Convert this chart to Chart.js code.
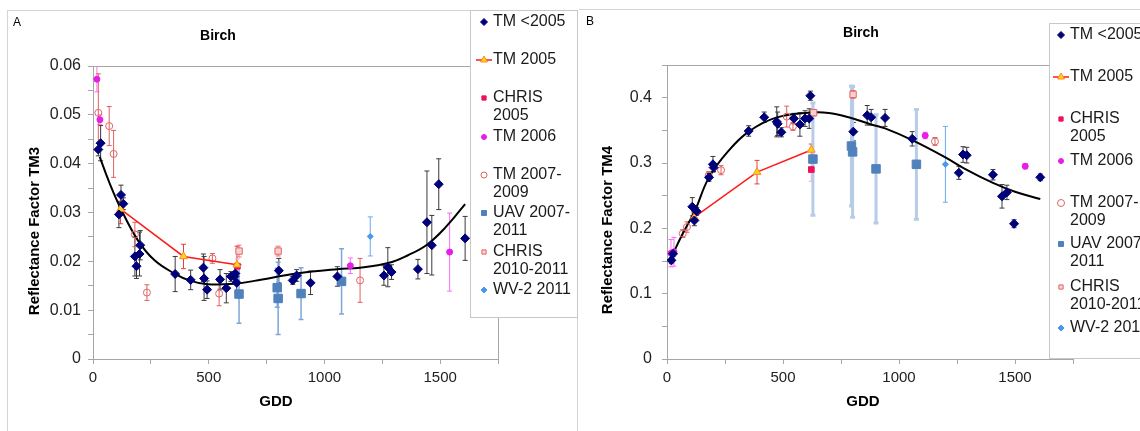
<!DOCTYPE html>
<html>
<head>
<meta charset="utf-8">
<script src="https://cdn.jsdelivr.net/npm/chart.js@4.4.1/dist/chart.umd.min.js"></script>
<style>
  body { margin: 0; background: #fff; width: 1140px; height: 431px; overflow: hidden; position: relative; }
  canvas { position: absolute; top: 0; }
  #chartA { left: 0; }
  #chartB { left: 578px; }
  .frameA { position: absolute; left: 7px; top: 10px; width: 569px; height: 430px; border: 1px solid #d4d4d4; border-bottom: none; }
  .frameB { position: absolute; left: 579px; top: 9px; width: 570px; height: 1px; border-top: 1px solid #d4d4d4; }
</style>
</head>
<body>
<div class="frameA"></div>
<div class="frameB"></div>
<canvas id="chartA" width="578" height="431"></canvas>
<canvas id="chartB" width="562" height="431"></canvas>
<script>
// series names (legend), split on the lines shown in the legend box
const seriesNames = [['TM <2005'], ['TM 2005'], ['CHRIS', '2005'], ['TM 2006'],
                     ['TM 2007-', '2009'], ['UAV 2007-', '2011'], ['CHRIS', '2010-2011'], ['WV-2 2011']];

// ---------- panel A : TM3 ----------
const tmPreA_x = [23, 33, 112, 121, 131, 181, 188, 201, 204, 355, 422, 477, 480, 493, 549, 576, 596, 611, 615, 621, 803, 863, 880, 940, 1056, 1257, 1274, 1290, 1404, 1443, 1464, 1494, 1608];
const tmPreA_y = [0.0429, 0.0442, 0.0296, 0.0336, 0.0318, 0.0210, 0.0190, 0.0215, 0.0233, 0.0174, 0.0162, 0.0187, 0.0165, 0.0142, 0.0163, 0.0145, 0.0169, 0.0169, 0.0175, 0.0156, 0.0181, 0.0161, 0.0171, 0.0156, 0.0169, 0.0171, 0.0188, 0.0178, 0.0184, 0.0280, 0.0233, 0.0358, 0.0247];
const tmPreA_e = [0.0013, 0.0036, 0.0027, 0.0020, 0.0012, 0.0040, 0.0025, 0.0045, 0.0030, 0.0036, 0.0020, 0.0028, 0.0045, 0.0018, 0.0020, 0.0030, 0.0010, 0.0010, 0.0015, 0.0020, 0.0025, 0.0008, 0.0012, 0.0024, 0.0020, 0.0020, 0.0040, 0.0015, 0.0020, 0.0105, 0.0061, 0.0052, 0.0045];
const tm2005A_x = [119, 391, 622];
const tm2005A_y = [0.0307, 0.0210, 0.0193];
const tm2005A_e = [0.0030, 0.0025, 0.0038];
const chris05A_x = [624];
const chris05A_y = [0.0190];
const chris05A_e = [0.0015];
const tm2006A_x = [17, 30, 1112, 1541];
const tm2006A_y = [0.0573, 0.0490, 0.0191, 0.0219];
const tm2006A_e = [0.0026, 0.0010, 0.0016, 0.0080];
const tm0709A_x = [23, 70, 89, 181, 233, 516, 545, 1154];
const tm0709A_y = [0.0504, 0.0477, 0.0420, 0.0255, 0.0136, 0.0206, 0.0134, 0.0161];
const tm0709A_e = [0.0080, 0.0040, 0.0048, 0.0025, 0.0016, 0.0010, 0.0025, 0.0045];
const uavA_x = [631, 796, 800, 899, 1074];
const uavA_y = [0.0133, 0.0146, 0.0124, 0.0134, 0.0159];
const uavA_e = [0.0060, 0.0040, 0.0074, 0.0053, 0.0067];
const chris1011A_x = [631, 800];
const chris1011A_y = [0.0221, 0.0221];
const chris1011A_e = [0.0012, 0.0010];
const wv2A_x = [1198];
const wv2A_y = [0.0251];
const wv2A_e = [0.0040];
const trendA_x = [29, 70, 121, 194, 266, 352, 422, 496, 611, 697, 880, 1056, 1154, 1280, 1359, 1443, 1524, 1608];
const trendA_y = [0.0414, 0.0362, 0.0307, 0.0243, 0.0202, 0.0175, 0.0160, 0.0153, 0.0154, 0.0160, 0.0175, 0.0184, 0.0187, 0.0197, 0.0212, 0.0234, 0.0270, 0.0317];

// ---------- panel B : TM4 ----------
const tmPreB_x = [19, 26, 109, 118, 128, 181, 198, 201, 352, 419, 473, 477, 493, 547, 573, 595, 613, 618, 803, 863, 880, 940, 1057, 1258, 1276, 1292, 1405, 1444, 1465, 1496, 1609];
const tmPreB_y = [0.151, 0.161, 0.233, 0.212, 0.226, 0.278, 0.298, 0.293, 0.349, 0.370, 0.363, 0.360, 0.347, 0.368, 0.359, 0.368, 0.368, 0.403, 0.348, 0.373, 0.370, 0.369, 0.337, 0.285, 0.313, 0.312, 0.282, 0.249, 0.255, 0.207, 0.278];
const tmPreB_e = [0.005, 0.004, 0.014, 0.008, 0.006, 0.006, 0.012, 0.006, 0.008, 0.008, 0.023, 0.018, 0.007, 0.008, 0.018, 0.012, 0.015, 0.007, 0.014, 0.015, 0.012, 0.013, 0.011, 0.010, 0.012, 0.012, 0.008, 0.018, 0.011, 0.006, 0.005];
const tm2005B_x = [118, 388, 622];
const tm2005B_y = [0.217, 0.286, 0.320];
const tm2005B_e = [0.006, 0.018, 0.009];
const chris05B_x = [622];
const chris05B_y = [0.290];
const chris05B_e = [0.018];
const tm2006B_x = [17, 30, 1113, 1544];
const tm2006B_y = [0.162, 0.164, 0.342, 0.295];
const tm2006B_e = [0.021, 0.022, 0.005, 0.004];
const tm0709B_x = [68, 86, 180, 233, 516, 543, 1155];
const tm0709B_y = [0.192, 0.202, 0.281, 0.289, 0.371, 0.356, 0.333];
const tm0709B_e = [0.006, 0.008, 0.006, 0.007, 0.016, 0.006, 0.006];
const uavB_x = [629, 795, 800, 901, 1075];
const uavB_y = [0.306, 0.326, 0.317, 0.291, 0.298];
const uavB_e = [0.086, 0.092, 0.100, 0.083, 0.084];
const chris1011B_x = [632, 802];
const chris1011B_y = [0.377, 0.405];
const chris1011B_e = [0.005, 0.006];
const wv2B_x = [1200];
const wv2B_y = [0.298];
const wv2B_e = [0.058];
const trendB_x = [19, 68, 118, 181, 266, 352, 467, 611, 697, 783, 880, 940, 1057, 1198, 1284, 1405, 1500, 1609];
const trendB_y = [0.156, 0.192, 0.225, 0.278, 0.319, 0.348, 0.369, 0.377, 0.3767, 0.370, 0.359, 0.353, 0.335, 0.309, 0.291, 0.2695, 0.256, 0.245];

const FONT = '"Liberation Sans", Arial, sans-serif';

function pts(xs, ys) {
    return xs.map((x, i) => ({ x: x, y: ys[i] }));
}

// draws vertical error bars with small caps, under the markers
const errorBars = {
    id: 'errorBars',
    beforeDatasetsDraw(chart) {
        const ctx = chart.ctx;
        const xs = chart.scales.x, ys = chart.scales.y;
        chart.data.datasets.forEach(ds => {
            if (!ds.err) return;
            ctx.save();
            ctx.strokeStyle = ds.errColor;
            ctx.lineWidth = ds.errWidth || 1;
            ds.data.forEach((p, i) => {
                const e = ds.err[i];
                if (!e) return;
                const px = xs.getPixelForValue(p.x);
                const top = ys.getPixelForValue(p.y + e);
                const bot = ys.getPixelForValue(p.y - e);
                ctx.beginPath();
                ctx.moveTo(px, top); ctx.lineTo(px, bot);
                ctx.moveTo(px - 2.5, top); ctx.lineTo(px + 2.5, top);
                ctx.moveTo(px - 2.5, bot); ctx.lineTo(px + 2.5, bot);
                ctx.stroke();
            });
            ctx.restore();
        });
    }
};

// grey frame round the plot area (excel style)
const plotFrame = {
    id: 'plotFrame',
    beforeDatasetsDraw(chart) {
        const a = chart.chartArea, ctx = chart.ctx;
        ctx.save();
        ctx.strokeStyle = '#a6a6a6';
        ctx.lineWidth = 1;
        ctx.strokeRect(Math.round(a.left) + 0.5, Math.round(a.top) + 0.5, a.right - a.left, a.bottom - a.top);
        ctx.restore();
    }
};

// boxed legend sitting over the right part of the plot
const boxLegend = {
    id: 'boxLegend',
    afterDraw(chart, args, o) {
        const ctx = chart.ctx;
        ctx.save();
        ctx.fillStyle = '#fff';
        ctx.fillRect(o.left, o.top, o.right - o.left, o.bottom - o.top);
        ctx.strokeStyle = '#c8c8c8';
        ctx.lineWidth = 1;
        ctx.strokeRect(o.left + 0.5, o.top + 0.5, o.right - o.left, o.bottom - o.top);
        ctx.font = '16px ' + FONT;
        ctx.textBaseline = 'middle';
        ctx.textAlign = 'left';
        seriesNames.forEach((lines, i) => {
            const ds = chart.data.datasets[i];
            const y = o.rows[i];
            if (ds.showLine) {
                ctx.strokeStyle = ds.borderColor;
                ctx.lineWidth = 1.5;
                ctx.beginPath();
                ctx.moveTo(o.markerX - 8, y); ctx.lineTo(o.markerX + 8, y);
                ctx.stroke();
            }
            ctx.fillStyle = ds.pointBackgroundColor || ds.backgroundColor;
            ctx.strokeStyle = ds.pointBorderColor || ds.borderColor;
            ctx.lineWidth = 1;
            if (Chart.helpers && Chart.helpers.drawPoint) {
                Chart.helpers.drawPoint(ctx, { pointStyle: ds.pointStyle, radius: o.markerRadius[i], rotation: 0, borderWidth: 1 }, o.markerX, y);
            }
            ctx.fillStyle = '#1a1a1a';
            lines.forEach((t, k) => ctx.fillText(t, o.textX, y + k * 18));
        });
        ctx.restore();
    }
};

// panel letter, chart title and axis titles
const panelText = {
    id: 'panelText',
    afterDraw(chart, args, o) {
        const ctx = chart.ctx;
        ctx.save();
        ctx.fillStyle = '#000';
        ctx.textBaseline = 'middle';
        ctx.textAlign = 'left';
        ctx.font = '12px ' + FONT;
        ctx.fillText(o.letter, o.letterX, o.letterY);
        ctx.textAlign = 'center';
        ctx.font = 'bold 14px ' + FONT;
        ctx.fillText(o.title, o.titleX, o.titleY);
        ctx.font = 'bold 15px ' + FONT;
        ctx.fillText(o.xTitle, o.xTitleX, o.xTitleY);
        ctx.translate(o.yTitleX, o.yTitleY);
        ctx.rotate(-Math.PI / 2);
        ctx.fillText(o.yTitle, 0, 0);
        ctx.restore();
    }
};

function makeSets(s, wideUav) {
    return [
        { label: 'TM <2005', data: pts(s.tmPre[0], s.tmPre[1]), err: s.tmPre[2], errColor: '#3a3a3a',
          pointStyle: 'rectRot', pointRadius: 4.5, backgroundColor: '#00007a', borderColor: '#00007a', borderWidth: 1 },
        { label: 'TM 2005', data: pts(s.tm2005[0], s.tm2005[1]), err: s.tm2005[2], errColor: '#e04040',
          showLine: true, borderColor: '#ff1a1a', borderWidth: 1.5, tension: 0,
          pointStyle: 'triangle', pointRadius: 4.5, pointBackgroundColor: '#ffd21f', pointBorderColor: '#ff8c1a', pointBorderWidth: 1 },
        { label: 'CHRIS 2005', data: pts(s.chris05[0], s.chris05[1]), err: s.chris05[2], errColor: '#f5a6d6',
          pointStyle: 'rect', pointRadius: 4, backgroundColor: '#f0105a', borderColor: '#f0105a', borderWidth: 1 },
        { label: 'TM 2006', data: pts(s.tm2006[0], s.tm2006[1]), err: s.tm2006[2], errColor: '#ff6cf5',
          pointStyle: 'circle', pointRadius: 3, backgroundColor: '#e61ee6', borderColor: '#e61ee6', borderWidth: 1 },
        { label: 'TM 2007-2009', data: pts(s.tm0709[0], s.tm0709[1]), err: s.tm0709[2], errColor: '#e06060',
          pointStyle: 'circle', pointRadius: 3.5, backgroundColor: 'rgba(255,255,255,0)', borderColor: '#de6464', borderWidth: 1 },
        { label: 'UAV 2007-2011', data: pts(s.uav[0], s.uav[1]), err: s.uav[2],
          errColor: wideUav ? '#b7cce6' : '#7ea6d8', errWidth: wideUav ? 3 : 1.5,
          pointStyle: 'rect', pointRadius: 6, backgroundColor: '#4f81bd', borderColor: '#4f81bd', borderWidth: 1 },
        { label: 'CHRIS 2010-2011', data: pts(s.chris1011[0], s.chris1011[1]), err: s.chris1011[2], errColor: '#f07070',
          pointStyle: 'rect', pointRadius: 4.5, backgroundColor: '#f8d2d2', borderColor: '#e86262', borderWidth: 1 },
        { label: 'WV-2 2011', data: pts(s.wv2[0], s.wv2[1]), err: s.wv2[2], errColor: '#6aaaf0',
          pointStyle: 'rectRot', pointRadius: 3, backgroundColor: '#4a98ee', borderColor: '#4a98ee', borderWidth: 1 },
        { label: 'trend', data: pts(s.trend[0], s.trend[1]), showLine: true, borderColor: '#000', borderWidth: 2,
          tension: 0.4, pointRadius: 0 }
    ];
}

function axisOpts(min, max, step, fmt, tickPad, size, fontSize) {
    return {
        type: 'linear', min: min, max: max, afterFit: size,
        ticks: { stepSize: step, autoSkip: false, maxRotation: 0, callback: fmt, padding: tickPad,
                 color: '#222', font: { family: FONT, size: fontSize } },
        grid: { drawOnChartArea: false, drawTicks: true, tickLength: 5, color: '#a6a6a6' },
        border: { color: '#a6a6a6' }
    };
}

const gddLabel = v => (v % 500 === 0 ? String(v) : '');

function drawPanel(id, sets, wideUav, cfg) {
    const ctx = document.getElementById(id).getContext('2d');
    return new Chart(ctx, {
        type: 'scatter',
        data: { datasets: makeSets(sets, wideUav) },
        plugins: [errorBars, plotFrame, boxLegend, panelText],
        options: {
            responsive: false,
            animation: false,
            layout: { padding: { top: cfg.top, right: cfg.right, left: 0, bottom: 0 } },
            plugins: {
                legend: { display: false },
                tooltip: { enabled: false },
                boxLegend: cfg.legend,
                panelText: cfg.text
            },
            scales: {
                x: axisOpts(0, 1750, 250, gddLabel, 5, s => { s.height = 72; }, 15),
                y: axisOpts(0, cfg.ymax, cfg.ystep, cfg.yfmt, cfg.ypad, s => { s.width = cfg.yw; }, 16)
            }
        }
    });
}

drawPanel('chartA', {
    tmPre: [tmPreA_x, tmPreA_y, tmPreA_e], tm2005: [tm2005A_x, tm2005A_y, tm2005A_e],
    chris05: [chris05A_x, chris05A_y, chris05A_e], tm2006: [tm2006A_x, tm2006A_y, tm2006A_e],
    tm0709: [tm0709A_x, tm0709A_y, tm0709A_e], uav: [uavA_x, uavA_y, uavA_e],
    chris1011: [chris1011A_x, chris1011A_y, chris1011A_e], wv2: [wv2A_x, wv2A_y, wv2A_e],
    trend: [trendA_x, trendA_y]
}, false, {
    top: 66, right: 80, yw: 93, ypad: 7,
    ymax: 0.06, ystep: 0.005,
    yfmt: v => (Math.round(v * 1000) % 10 === 0 ? String(+v.toFixed(2)) : ''),
    legend: { left: 470, top: 10, right: 577, bottom: 317, markerX: 484, textX: 493,
              rows: [22, 60, 98, 137, 175, 213, 252, 290], markerRadius: [3.5, 4, 3, 2.5, 3, 3.5, 3, 3] },
    text: { letter: 'A', letterX: 13, letterY: 23, title: 'Birch', titleX: 218, titleY: 36,
            xTitle: 'GDD', xTitleX: 276, xTitleY: 402, yTitle: 'Reflectance Factor TM3', yTitleX: 35, yTitleY: 231 }
});

drawPanel('chartB', {
    tmPre: [tmPreB_x, tmPreB_y, tmPreB_e], tm2005: [tm2005B_x, tm2005B_y, tm2005B_e],
    chris05: [chris05B_x, chris05B_y, chris05B_e], tm2006: [tm2006B_x, tm2006B_y, tm2006B_e],
    tm0709: [tm0709B_x, tm0709B_y, tm0709B_e], uav: [uavB_x, uavB_y, uavB_e],
    chris1011: [chris1011B_x, chris1011B_y, chris1011B_e], wv2: [wv2B_x, wv2B_y, wv2B_e],
    trend: [trendB_x, trendB_y]
}, true, {
    top: 65, right: 67, yw: 89, ypad: 10,
    ymax: 0.45, ystep: 0.05,
    yfmt: v => (Math.round(v * 100) % 10 === 0 ? String(+v.toFixed(1)) : ''),
    legend: { left: 471, top: 23, right: 580, bottom: 358, markerX: 483, textX: 492,
              rows: [35, 77, 119, 161, 203, 244, 287, 328], markerRadius: [3.5, 4, 3, 2.5, 3.5, 3.5, 3, 3] },
    text: { letter: 'B', letterX: 8, letterY: 22, title: 'Birch', titleX: 283, titleY: 33,
            xTitle: 'GDD', xTitleX: 285, xTitleY: 402, yTitle: 'Reflectance Factor TM4', yTitleX: 30, yTitleY: 230 }
});
</script>
</body>
</html>
